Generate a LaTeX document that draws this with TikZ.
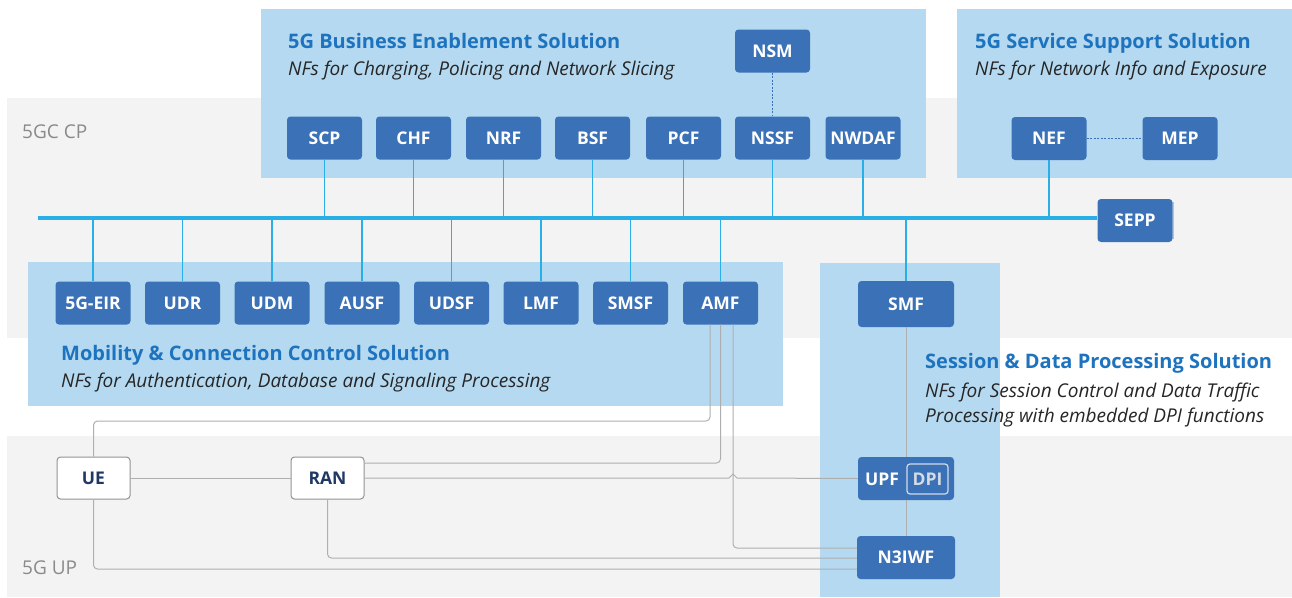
\documentclass[tikz,border=0pt]{standalone}
\usepackage{fontspec}
\newfontfamily\osans{Open Sans}
\usetikzlibrary{calc}
\definecolor{nfblue}{HTML}{3B71B7}
\definecolor{regionblue}{HTML}{B5D9F0}
\definecolor{bandgray}{HTML}{F3F3F3}
\definecolor{busblue}{HTML}{2AAEE6}
\definecolor{titleblue}{HTML}{1E73BE}
\definecolor{linegray}{HTML}{AFAFAF}
\definecolor{labelgray}{HTML}{8A8A8A}
\definecolor{navy}{HTML}{1F3864}
\definecolor{edgeyellow}{HTML}{F2C230}
\definecolor{dpigray}{HTML}{D3DBE6}
\tikzset{
  nf/.style={rectangle, rounded corners=3.5pt, fill=nfblue, text=white,
    font=\osans\bfseries\fontsize{17.5}{19}\selectfont, minimum width=75pt,
    minimum height=43pt, inner sep=0pt},
  ue/.style={rectangle, rounded corners=3.5pt, fill=white, draw=gray!85, line width=1pt,
    text=navy, font=\osans\bfseries\fontsize{17.5}{19}\selectfont, minimum width=73pt,
    minimum height=42pt, inner sep=0pt},
  busline/.style={busblue, line width=4pt},
  busdrop/.style={busblue, line width=1.6pt},
  gl/.style={linegray, line width=1pt, rounded corners=4pt},
  dotl/.style={nfblue, line width=1.2pt, dash pattern=on 2pt off 1.5pt},
  ttl/.style={anchor=base west, text=titleblue, inner sep=0pt,
    font=\osans\bfseries\fontsize{20}{22}\selectfont},
  sub/.style={anchor=base west, text=black!85, inner sep=0pt,
    font=\osans\itshape\fontsize{19}{21}\selectfont},
  band/.style={anchor=base west, text=labelgray, inner sep=0pt,
    font=\osans\fontsize{19}{21}\selectfont},
}
\begin{document}
\begin{tikzpicture}[x=1pt,y=-1pt]
\useasboundingbox (0,0) rectangle (1292,597);
\fill[white] (0,0) rectangle (1292,597);
% gray bands
\fill[bandgray] (7,98) rectangle (1292,338);
\fill[bandgray] (7,436) rectangle (1292,597);
% regions
\fill[regionblue] (261,9) rectangle (926,178);
\fill[regionblue] (957,9) rectangle (1292,178);
\fill[regionblue] (28,262) rectangle (783,406);
\fill[regionblue] (820,263) rectangle (1000,597);
% texts
\node[band] (cp) at (22,138) {5GC CP};
\node[band] (up) at (22,574) {5G UP};
\node[ttl] (t1) at (288,48) {5G Business Enablement Solution};
\node[sub] (s1) at (288,75) {NFs for Charging, Policing and Network Slicing};
\node[ttl] (t2) at (975,48) {5G Service Support Solution};
\node[sub] (s2) at (975,75) {NFs for Network Info and Exposure};
\node[ttl] (t3) at (61,360) {Mobility \& Connection Control Solution};
\node[sub] (s3) at (61,387) {NFs for Authentication, Database and Signaling Processing};
\node[ttl] (t4) at (925,368) {Session \& Data Processing Solution};
\node[sub] (s4) at (925,397) {NFs for Session Control and Data Traffic};
\node[sub] (s5) at (925,422) {Processing with embedded DPI functions};
% top NFs
\node[nf] (SCP) at (324.5,138) {SCP};
\node[nf] (CHF) at (413.5,138) {CHF};
\node[nf] (NRF) at (503.5,138) {NRF};
\node[nf] (BSF) at (592.5,138) {BSF};
\node[nf] (PCF) at (683.5,138) {PCF};
\node[nf] (NSSF) at (772.5,138) {NSSF};
\node[nf] (NWDAF) at (863,138) {NWDAF};
\node[nf] (NSM) at (772.5,51) {NSM};
\node[nf] (NEF) at (1049,138.5) {NEF};
\node[nf] (MEP) at (1180,138.5) {MEP};
\node[nf] (SEPP) at (1135,220.5) {SEPP};
% bottom NFs
\node[nf] (EIR) at (93,303) {5G-EIR};
\node[nf] (UDR) at (182.5,303) {UDR};
\node[nf] (UDM) at (272,303) {UDM};
\node[nf] (AUSF) at (362,303) {AUSF};
\node[nf] (UDSF) at (451.5,303) {UDSF};
\node[nf] (LMF) at (541,303) {LMF};
\node[nf] (SMSF) at (630.5,303) {SMSF};
\node[nf] (AMF) at (720.5,303) {AMF};
\node[nf, minimum width=96pt, minimum height=46pt] (SMF) at (906,304) {SMF};
% user plane
\node[ue] (UE) at (93.5,478) {UE};
\node[ue] (RAN) at (327.5,478) {RAN};
\node[nf, minimum width=96pt] (UPF) at (906,478.5) {};
\node[anchor=center, text=white, inner sep=0pt, font=\osans\bfseries\fontsize{17.5}{19}\selectfont] (UPFt) at (882,479) {UPF};
\node[draw=dpigray, line width=1.2pt, rounded corners=3pt, minimum width=41pt, minimum height=30pt, inner sep=0pt, text=dpigray, font=\osans\bfseries\fontsize{17.5}{19}\selectfont] (DPI) at (927.5,479) {DPI};
\node[nf, minimum width=98pt] (N3IWF) at (906,557.5) {N3IWF};
% yellow edges
\draw[edgeyellow, line width=1.2pt] ([xshift=0.6pt,yshift=-3pt]SEPP.north east) -- ([xshift=0.6pt,yshift=3pt]SEPP.south east);
\draw[edgeyellow, line width=1.2pt] ([xshift=3pt,yshift=-0.6pt]N3IWF.south west) -- ([xshift=-3pt,yshift=-0.6pt]N3IWF.south east);
% bus
\coordinate (busL) at (38,218);
\draw[busline] (busL) -- (busL -| SEPP.west);
\foreach \n in {SCP,CHF,NRF,BSF,PCF,NSSF,NWDAF,NEF}{
  \draw[busdrop] (\n.south) -- (\n.south |- busL);
}
\foreach \n in {EIR,UDR,UDM,AUSF,UDSF,LMF,SMSF,AMF,SMF}{
  \draw[busdrop] (\n.north) -- (\n.north |- busL);
}
% dotted links
\draw[dotl] (NSM.south) -- (NSSF.north);
\draw[dotl] (NEF.east) -- (MEP.west);
% gray links
\coordinate (y421) at (0,421);
\coordinate (y463) at (0,463);
\coordinate (y548) at (0,548);
\coordinate (y558) at (0,558);
\coordinate (y569) at (0,569);
\draw[gl] ([xshift=-10.5pt]AMF.south) -- ([xshift=-10.5pt]AMF.south |- y421) -| (UE.north);
\draw[gl] (RAN.east |- y463) -| (AMF.south);
\draw[gl] ([xshift=12.5pt]AMF.south) |- (N3IWF.west |- y548);
\draw[linegray, line width=1pt] (RAN.east) -- (729,478) -- (733,474) -- (737,478) -- (UPF.west);
\draw[linegray, line width=1pt] (UE.east) -- (RAN.west);
\draw[gl] (RAN.south) |- (N3IWF.west |- y558);
\draw[gl] (UE.south) |- (N3IWF.west |- y569);
\draw[linegray, line width=1pt] (SMF.south) -- (UPF.north);
\draw[linegray, line width=1pt] (UPF.south) -- (N3IWF.north);
\end{tikzpicture}
\end{document}
